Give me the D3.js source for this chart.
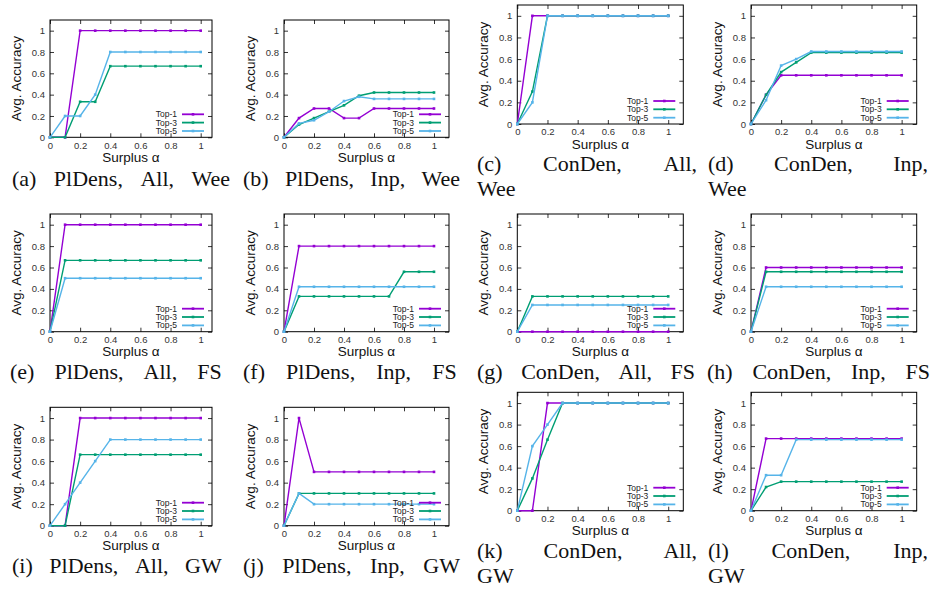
<!DOCTYPE html>
<html>
<head>
  <meta charset="utf-8">
  <title>Avg. Accuracy vs Surplus</title>
  <style>
    body { margin: 0; background: #fff; }
    svg { display: block; }
    .tick text { font: 9.5px "Liberation Sans", Arial, sans-serif; fill: #333; }
    .tick line { stroke: #000; }
    .axis-label { font: 13.5px "Liberation Sans", Arial, sans-serif; fill: #111; }
    .legend text { font: 8.5px "Liberation Sans", Arial, sans-serif; fill: #222; }
    .caption { font: 22px "Liberation Serif", "Times New Roman", serif; fill: #111; }
  </style>
</head>
<body>
  <script src="https://d3js.org/d3.v7.min.js"></script>
  <script>
    // shared axis values
    const xValues = [0, 0.1, 0.2, 0.3, 0.4, 0.5, 0.6, 0.7, 0.8, 0.9, 1];
    const xTicks = [0, 0.2, 0.4, 0.6, 0.8, 1];
    const yTicks = [0, 0.2, 0.4, 0.6, 0.8, 1];
    const seriesNames = ["Top-1", "Top-3", "Top-5"];
    const seriesColors = ["#9400d3", "#009e73", "#56b4e9"];

    // each panel: [Top-1, Top-3, Top-5]
    const plDensAllWee = [
      [0, 0, 1, 1, 1, 1, 1, 1, 1, 1, 1],
      [0, 0, 0.333, 0.333, 0.667, 0.667, 0.667, 0.667, 0.667, 0.667, 0.667],
      [0, 0.2, 0.2, 0.4, 0.8, 0.8, 0.8, 0.8, 0.8, 0.8, 0.8]
    ];
    const plDensInpWee = [
      [0, 0.18, 0.27, 0.27, 0.18, 0.18, 0.27, 0.27, 0.27, 0.27, 0.27],
      [0, 0.12, 0.18, 0.24, 0.30, 0.39, 0.42, 0.42, 0.42, 0.42, 0.42],
      [0, 0.13, 0.16, 0.24, 0.34, 0.38, 0.36, 0.36, 0.36, 0.36, 0.36]
    ];
    const conDenAllWee = [
      [0, 1, 1, 1, 1, 1, 1, 1, 1, 1, 1],
      [0, 0.3, 1, 1, 1, 1, 1, 1, 1, 1, 1],
      [0, 0.2, 1, 1, 1, 1, 1, 1, 1, 1, 1]
    ];
    const conDenInpWee = [
      [0, 0.27, 0.45, 0.45, 0.45, 0.45, 0.45, 0.45, 0.45, 0.45, 0.45],
      [0, 0.27, 0.48, 0.57, 0.66, 0.66, 0.66, 0.66, 0.66, 0.66, 0.66],
      [0, 0.22, 0.54, 0.60, 0.67, 0.67, 0.67, 0.67, 0.67, 0.67, 0.67]
    ];
    const plDensAllFS = [
      [0, 1, 1, 1, 1, 1, 1, 1, 1, 1, 1],
      [0, 0.667, 0.667, 0.667, 0.667, 0.667, 0.667, 0.667, 0.667, 0.667, 0.667],
      [0, 0.5, 0.5, 0.5, 0.5, 0.5, 0.5, 0.5, 0.5, 0.5, 0.5]
    ];
    const plDensInpFS = [
      [0, 0.8, 0.8, 0.8, 0.8, 0.8, 0.8, 0.8, 0.8, 0.8, 0.8],
      [0, 0.33, 0.33, 0.33, 0.33, 0.33, 0.33, 0.33, 0.56, 0.56, 0.56],
      [0, 0.42, 0.42, 0.42, 0.42, 0.42, 0.42, 0.42, 0.42, 0.42, 0.42]
    ];
    const conDenAllFS = [
      [0, 0, 0, 0, 0, 0, 0, 0, 0, 0, 0],
      [0, 0.33, 0.33, 0.33, 0.33, 0.33, 0.33, 0.33, 0.33, 0.33, 0.33],
      [0, 0.25, 0.25, 0.25, 0.25, 0.25, 0.25, 0.25, 0.25, 0.25, 0.25]
    ];
    const conDenInpFS = [
      [0, 0.6, 0.6, 0.6, 0.6, 0.6, 0.6, 0.6, 0.6, 0.6, 0.6],
      [0, 0.56, 0.56, 0.56, 0.56, 0.56, 0.56, 0.56, 0.56, 0.56, 0.56],
      [0, 0.42, 0.42, 0.42, 0.42, 0.42, 0.42, 0.42, 0.42, 0.42, 0.42]
    ];
    const plDensAllGW = [
      [0, 0, 1, 1, 1, 1, 1, 1, 1, 1, 1],
      [0, 0, 0.66, 0.66, 0.66, 0.66, 0.66, 0.66, 0.66, 0.66, 0.66],
      [0, 0.2, 0.4, 0.6, 0.8, 0.8, 0.8, 0.8, 0.8, 0.8, 0.8]
    ];
    const plDensInpGW = [
      [0, 1, 0.5, 0.5, 0.5, 0.5, 0.5, 0.5, 0.5, 0.5, 0.5],
      [0, 0.3, 0.3, 0.3, 0.3, 0.3, 0.3, 0.3, 0.3, 0.3, 0.3],
      [0, 0.3, 0.2, 0.2, 0.2, 0.2, 0.2, 0.2, 0.2, 0.2, 0.2]
    ];
    const conDenAllGW = [
      [0, 0, 1, 1, 1, 1, 1, 1, 1, 1, 1],
      [0, 0.3, 0.66, 1, 1, 1, 1, 1, 1, 1, 1],
      [0, 0.6, 0.8, 1, 1, 1, 1, 1, 1, 1, 1]
    ];
    const conDenInpGW = [
      [0, 0.67, 0.67, 0.67, 0.67, 0.67, 0.67, 0.67, 0.67, 0.67, 0.67],
      [0, 0.22, 0.27, 0.27, 0.27, 0.27, 0.27, 0.27, 0.27, 0.27, 0.27],
      [0, 0.33, 0.33, 0.66, 0.66, 0.66, 0.66, 0.66, 0.66, 0.66, 0.66]
    ];

    const panelData = [
      plDensAllWee, plDensInpWee, conDenAllWee, conDenInpWee,
      plDensAllFS, plDensInpFS, conDenAllFS, conDenInpFS,
      plDensAllGW, plDensInpGW, conDenAllGW, conDenInpGW
    ];
    // caption lines (justified between left/right; a single word stays left aligned)
    const captions = [
      ["(a) PlDens, All, Wee"], ["(b) PlDens, Inp, Wee"],
      ["(c) ConDen, All,", "Wee"], ["(d) ConDen, Inp,", "Wee"],
      ["(e) PlDens, All, FS"], ["(f) PlDens, Inp, FS"],
      ["(g) ConDen, All, FS"], ["(h) ConDen, Inp, FS"],
      ["(i) PlDens, All, GW"], ["(j) PlDens, Inp, GW"],
      ["(k) ConDen, All,", "GW"], ["(l) ConDen, Inp,", "GW"]
    ];

    // layout
    const colX = [[50, 212], [284, 449], [517.3, 683.3], [751, 916.7]];
    const xMax = [1.075, 1.1, 1.1, 1.1];
    const rowYLeft = [[20, 137.3], [214, 331.7], [407.3, 525.7]];
    const rowYRight = [[5, 124], [214, 331.7], [392.3, 510.7]];
    const captionRowX = [
      [[12, 230], [243, 460], [477, 697], [708, 928]],
      [[10, 221.7], [243, 456.7], [477, 695], [707, 930]],
      [[12, 221.7], [243, 460], [477, 697], [708, 928]]
    ];
    const captionYLeft = [185.5, 379, 573.3];
    const captionYRight = [170.5, 379, 558.3];
    const lineGap = 25;

    const svg = d3.select("body").append("svg").attr("width", 935).attr("height", 592);

    panelData.forEach((series, i) => {
      const col = i % 4, row = Math.floor(i / 4);
      const [l, r] = colX[col];
      const [t, b] = (col < 2 ? rowYLeft : rowYRight)[row];
      const x = d3.scaleLinear().domain([0, xMax[col]]).range([l, r]);
      const y = d3.scaleLinear().domain([0, 1.1]).range([b, t]);
      const g = svg.append("g");

      // axes: inward ticks, mirrored on top/right
      g.append("g").attr("transform", `translate(0,${b})`)
        .call(d3.axisBottom(x).tickValues(xTicks).tickSize(-4).tickSizeOuter(0).tickPadding(4.5).tickFormat(d => d))
        .call(a => a.select(".domain").remove());
      g.append("g").attr("transform", `translate(0,${t})`)
        .call(d3.axisTop(x).tickValues(xTicks).tickSize(-4).tickSizeOuter(0).tickFormat(""))
        .call(a => a.select(".domain").remove());
      g.append("g").attr("transform", `translate(${l},0)`)
        .call(d3.axisLeft(y).tickValues(yTicks).tickSize(-4).tickSizeOuter(0).tickPadding(5).tickFormat(d => d))
        .call(a => a.select(".domain").remove());
      g.append("g").attr("transform", `translate(${r},0)`)
        .call(d3.axisRight(y).tickValues(yTicks).tickSize(-4).tickSizeOuter(0).tickFormat(""))
        .call(a => a.select(".domain").remove());
      g.selectAll(".tick line").attr("stroke-width", 0.8);

      g.append("rect").attr("x", l).attr("y", t).attr("width", r - l).attr("height", b - t)
        .attr("fill", "none").attr("stroke", "#000").attr("stroke-width", 1);

      g.append("text").attr("class", "axis-label")
        .attr("transform", `translate(${l - 34},${(t + b) / 2}) rotate(-90)`)
        .attr("text-anchor", "middle").attr("dominant-baseline", "central")
        .text("Avg. Accuracy");
      g.append("text").attr("class", "axis-label")
        .attr("x", (l + r) / 2).attr("y", b + 24.5)
        .attr("text-anchor", "middle").text("Surplus α");

      // series
      const line = d3.line().x((d, k) => x(xValues[k])).y(d => y(d));
      series.forEach((vals, s) => {
        g.append("path").attr("d", line(vals)).attr("fill", "none")
          .attr("stroke", seriesColors[s]).attr("stroke-width", 1.4);
        g.selectAll(null).data(vals).join("rect")
          .attr("x", (d, k) => x(xValues[k]) - 1.3).attr("y", d => y(d) - 1.3)
          .attr("width", 2.6).attr("height", 2.6).attr("fill", seriesColors[s]);
      });

      // legend
      const lg = g.append("g").attr("class", "legend");
      const legendY = [b - 23, b - 14.7, b - 6.3];
      seriesNames.forEach((name, s) => {
        lg.append("text").attr("x", r - 35).attr("y", legendY[s])
          .attr("text-anchor", "end").attr("dominant-baseline", "central").text(name);
        lg.append("line").attr("x1", r - 30).attr("x2", r - 8)
          .attr("y1", legendY[s]).attr("y2", legendY[s])
          .attr("stroke", seriesColors[s]).attr("stroke-width", 1.8);
        lg.append("rect").attr("x", r - 19 - 1.3).attr("y", legendY[s] - 1.3)
          .attr("width", 2.6).attr("height", 2.6).attr("fill", seriesColors[s]);
      });

      // caption
      const [cx0, cx1] = captionRowX[row][col];
      const cy = (col < 2 ? captionYLeft : captionYRight)[row];
      captions[i].forEach((text, li) => {
        const words = text.split(" ");
        const ty = cy + li * lineGap;
        const nodes = words.map(w => svg.append("text").attr("class", "caption").attr("y", ty).text(w));
        const widths = nodes.map(n => n.node().getComputedTextLength());
        if (words.length === 1) { nodes[0].attr("x", cx0); return; }
        const gap = (cx1 - cx0 - d3.sum(widths)) / (words.length - 1);
        let pos = cx0;
        nodes.forEach((n, k) => { n.attr("x", pos); pos += widths[k] + gap; });
      });
    });
  </script>
</body>
</html>
